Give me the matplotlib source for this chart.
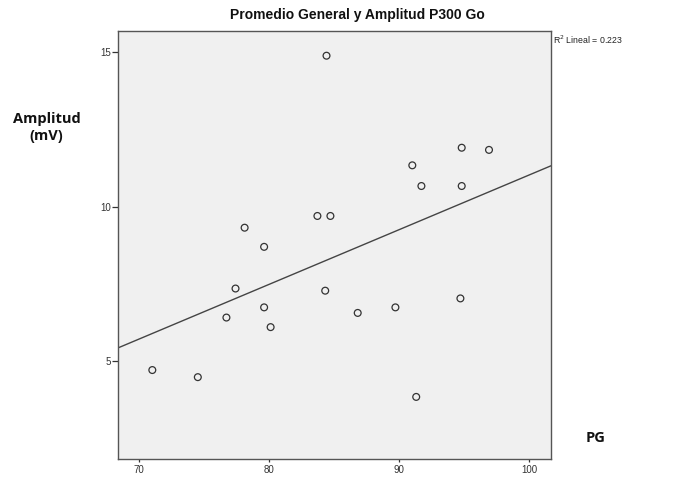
import matplotlib
matplotlib.use('Agg')
import matplotlib.pyplot as plt
import numpy as np

# PG (promedio general) vs. amplitud P300 Go
pg = [71.0, 74.5, 76.7, 77.4, 78.1, 79.6, 79.6, 80.1, 83.7, 84.7, 84.3,
      86.8, 89.7, 91.3, 94.7, 84.4, 91.0, 91.7, 94.8, 94.8, 96.9]
amp = [4.71, 4.48, 6.41, 7.35, 9.32, 8.70, 6.74, 6.10, 9.70, 9.70, 7.28,
       6.56, 6.74, 3.84, 7.03, 14.89, 11.34, 10.67, 11.91, 10.67, 11.84]
x_ticks = [70, 80, 90, 100]
y_ticks = [5, 10, 15]

plt.rcParams['font.family'] = ['Liberation Sans', 'DejaVu Sans']

fig = plt.figure(figsize=(6.77, 4.8), dpi=100)
ax = fig.add_axes([0.1743, 0.0438, 0.6396, 0.8916])
ax.set_facecolor('#f0f0f0')

ax.scatter(pg, amp, s=24, facecolors='none', edgecolors='#333333', linewidths=0.9, zorder=3)

# linear fit
slope, inter = np.polyfit(pg, amp, 1)
xl = np.array([68.36, 101.67])
ax.plot(xl, slope * xl + inter, color='#444444', lw=1.0, zorder=2)

ax.set_xlim(68.36, 101.67)
ax.set_ylim(1.83, 15.69)
ax.set_xticks(x_ticks)
ax.set_yticks(y_ticks)
ax.tick_params(direction='out', length=4, width=0.9, labelsize=7, colors='#333333', pad=1)
ax.tick_params(axis='x', length=2.5, pad=2)
for s in ax.spines.values():
    s.set_color('#555555')
    s.set_linewidth(1.0)

fig.text(0.528, 0.969, 'Promedio General y Amplitud P300 Go', ha='center', va='center',
         fontsize=10, fontweight='bold', color='#111111')
fig.text(0.069, 0.735, 'Amplitud\n(mV)', ha='center', va='center', fontsize=10.5,
         fontweight='bold', family=['Open Sans', 'DejaVu Sans'], linespacing=1.3, color='#111111')
fig.text(0.879, 0.088, 'PG', ha='center', va='center', fontsize=10.5, fontweight='bold',
         family=['Open Sans', 'DejaVu Sans'], color='#111111')
fig.text(0.817, 0.918, 'R$^2$ Lineal = 0.223', ha='left', va='center', fontsize=6.3, color='#222222')

fig.savefig('out.png', dpi=100)
